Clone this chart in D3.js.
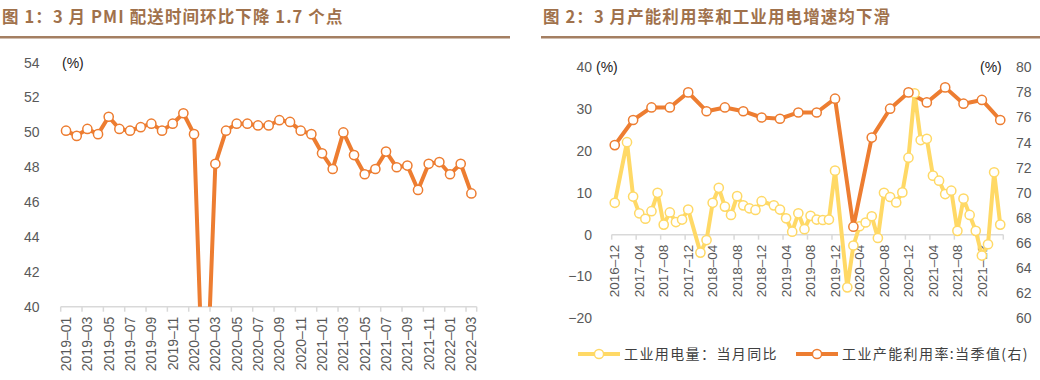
<!DOCTYPE html>
<html>
<head>
<meta charset="utf-8">
<script src="https://cdn.jsdelivr.net/npm/d3@7"></script>
<style>
  body { margin: 0; background: #fff; }
  svg { display: block; }
  .tick text { font-family: "Liberation Sans", Arial, sans-serif; }
</style>
</head>
<body>
<div id="chart"></div>
<script>
// ---- data ----
var leftTitle = "图 1：3 月 PMI 配送时间环比下降 1.7 个点";
var rightTitle = "图 2：3 月产能利用率和工业用电增速均下滑";

// PMI supplier delivery times, 2019-01 .. 2022-03
var pmiMonths = monthList(2019, 1, 2022, 3);
var pmiDelivery = [50.1, 49.8, 50.2, 49.9, 50.9, 50.2, 50.1, 50.3, 50.5, 50.1, 50.5, 51.1,
                   49.9, 32.1, 48.2, 50.1, 50.5, 50.5, 50.4, 50.4, 50.7, 50.6, 50.1, 49.9,
                   48.8, 47.9, 50.0, 48.7, 47.6, 47.9, 48.9, 48.0, 48.1, 46.7, 48.2, 48.3,
                   47.6, 48.2, 46.5];
var pmiTicks = [40, 42, 44, 46, 48, 50, 52, 54];

// industrial power use yoy, 2016-12 .. 2022-03 (null = not published)
var elecMonths = monthList(2016, 12, 2022, 3);
var elecYoy = [7.6, null, 22.1, 9.1, 5.1, 3.8, 5.6, 10.0, 2.4, 5.3, 3.0, 3.6,
               6.0, null, -4.3, -1.3, 7.6, 11.2, 6.7, 4.7, 9.2, 7.0, 6.3, 5.9,
               8.0, null, 7.0, 6.0, 3.9, 0.7, 5.1, 1.3, 4.5, 3.6, 3.5, 3.6,
               15.3, null, -12.6, -2.6, 2.0, 2.9, 4.4, -0.8, 10.0, 9.0, 7.7, 10.1,
               18.4, 33.8, 22.6, 22.9, 14.1, 12.9, 9.7, 10.5, 0.9, 8.6, 4.7, 0.9,
               -5.0, -2.3, 14.9, 2.4];
// industrial capacity utilization, quarterly
var capQuarters = ["2016-12", "2017-03", "2017-06", "2017-09", "2017-12", "2018-03", "2018-06",
                   "2018-09", "2018-12", "2019-03", "2019-06", "2019-09", "2019-12", "2020-03",
                   "2020-06", "2020-09", "2020-12", "2021-03", "2021-06", "2021-09", "2021-12",
                   "2022-03"];
var capRate = [73.8, 75.8, 76.8, 76.8, 78.0, 76.5, 76.8, 76.5, 76.0, 75.9, 76.4,
               76.4, 77.5, 67.3, 74.4, 76.7, 78.0, 77.2, 78.4, 77.1, 77.4, 75.8];
var leftTicks = [-20, -10, 0, 10, 20, 30, 40];
var rightTicks = [60, 62, 64, 66, 68, 70, 72, 74, 76, 78, 80];
var legendNames = ["工业用电量：当月同比", "工业产能利用率:当季值(右)"];

var orange = "#ED7D31";
var yellow = "#FFD966";
var axisGray = "#D9D9D9";
var labelGray = "#595959";

function monthList(y0, m0, y1, m1) {
  var out = [];
  var y = y0, m = m0;
  while (y < y1 || (y == y1 && m <= m1)) {
    out.push(y + "-" + (m < 10 ? "0" + m : m));
    m++;
    if (m > 12) { m = 1; y++; }
  }
  return out;
}

var svg = d3.select("#chart").append("svg")
    .attr("width", 1040)
    .attr("height", 380);

// titles with underline
function drawTitle(text, x0, x1) {
  svg.append("text")
      .attr("x", x0 + 2)
      .attr("y", 23)
      .style("font-family", "'Noto Sans CJK SC', sans-serif")
      .style("font-weight", "bold")
      .style("font-size", "16.5px")
      .style("letter-spacing", "1.1px")
      .style("fill", "#A0714B")
      .text(text);
  svg.append("rect")
      .attr("x", x0)
      .attr("y", 36)
      .attr("width", x1 - x0)
      .attr("height", 2.5)
      .style("fill", "#A47F62");
}
drawTitle(leftTitle, 0, 510);
drawTitle(rightTitle, 541, 1040);

function dash(s) { return s.replace("-", "–"); }

function drawMarkers(g, pts, xf, yf, color) {
  g.selectAll(null)
      .data(pts)
    .enter().append("circle")
      .attr("cx", xf)
      .attr("cy", yf)
      .attr("r", 4.6)
      .style("fill", "#fff")
      .style("stroke", color)
      .style("stroke-width", 1.5);
}

// ---------- left chart ----------
function createLeftChart() {
  var x = d3.scaleBand()
      .domain(pmiMonths)
      .range([60.7, 476.7]);
  var y = d3.scaleLinear()
      .domain([40, 54])
      .range([306.7, 62.7]);

  var g = svg.append("g");

  // y labels, no axis line
  g.selectAll(".ylab")
      .data(pmiTicks)
    .enter().append("text")
      .attr("class", "ylab")
      .attr("x", 39.5)
      .attr("y", function(d) { return y(d); })
      .attr("dy", "0.35em")
      .style("text-anchor", "end")
      .style("font-family", "'Liberation Sans', Arial, sans-serif")
      .style("font-size", "14px")
      .style("fill", labelGray)
      .text(function(d) { return d; });

  g.append("text")
      .attr("x", 62)
      .attr("y", 68)
      .style("font-family", "'Liberation Sans', Arial, sans-serif")
      .style("font-size", "14px")
      .style("fill", "#222")
      .text("(%)");

  // x axis
  var xAxis = g.append("g")
      .attr("transform", "translate(0," + y(40) + ")");
  xAxis.append("line")
      .attr("x1", x.range()[0]).attr("x2", x.range()[1])
      .style("stroke", axisGray).style("stroke-width", 1.5);
  var edges = pmiMonths.filter(function(d, i) { return i % 2 == 0; });
  xAxis.selectAll(".tk")
      .data(edges.concat(["end"]))
    .enter().append("line")
      .attr("x1", function(d) { return d == "end" ? x.range()[1] : x(d); })
      .attr("x2", function(d) { return d == "end" ? x.range()[1] : x(d); })
      .attr("y1", 0).attr("y2", 5)
      .style("stroke", axisGray).style("stroke-width", 1.5);
  xAxis.selectAll(".xlab")
      .data(edges)
    .enter().append("text")
      .attr("transform", function(d) {
        return "translate(" + (x(d) + x.bandwidth() / 2) + ",10) rotate(-90)";
      })
      .attr("dy", "0.35em")
      .style("text-anchor", "end")
      .style("font-family", "'Liberation Sans', Arial, sans-serif")
      .style("font-size", "14px")
      .style("fill", labelGray)
      .text(dash);

  // clip so the 2020-02 plunge is cut at the axis
  svg.append("clipPath")
      .attr("id", "leftClip")
    .append("rect")
      .attr("x", 40).attr("y", 40)
      .attr("width", 460).attr("height", y(40) - 40);

  var pts = pmiMonths.map(function(m, i) { return { m: m, v: pmiDelivery[i] }; });
  var cx = function(d) { return x(d.m) + x.bandwidth() / 2; };
  var cy = function(d) { return y(d.v); };

  var plot = g.append("g").attr("clip-path", "url(#leftClip)");
  plot.append("path")
      .datum(pts)
      .attr("d", d3.line().x(cx).y(cy))
      .style("fill", "none")
      .style("stroke", orange)
      .style("stroke-width", 4)
      .style("stroke-linejoin", "round");
  drawMarkers(plot, pts, cx, cy, orange);
}

// ---------- right chart ----------
function createRightChart() {
  var x = d3.scaleBand()
      .domain(elecMonths)
      .range([611.7, 1003.3]);
  var yL = d3.scaleLinear()
      .domain([-20, 40])
      .range([318.3, 67.3]);
  var yR = d3.scaleLinear()
      .domain([60, 80])
      .range([318.3, 67.3]);

  var g = svg.append("g");

  g.selectAll(".ylL")
      .data(leftTicks)
    .enter().append("text")
      .attr("x", 592)
      .attr("y", function(d) { return yL(d); })
      .attr("dy", "0.35em")
      .style("text-anchor", "end")
      .style("font-family", "'Liberation Sans', Arial, sans-serif")
      .style("font-size", "14px")
      .style("fill", labelGray)
      .text(function(d) { return d < 0 ? "−" + (-d) : d; });

  g.selectAll(".ylR")
      .data(rightTicks)
    .enter().append("text")
      .attr("x", 1016)
      .attr("y", function(d) { return yR(d); })
      .attr("dy", "0.35em")
      .style("font-family", "'Liberation Sans', Arial, sans-serif")
      .style("font-size", "14px")
      .style("fill", labelGray)
      .text(function(d) { return d; });

  g.append("text")
      .attr("x", 596).attr("y", 72)
      .style("font-family", "'Liberation Sans', Arial, sans-serif")
      .style("font-size", "14px")
      .style("fill", "#222")
      .text("(%)");
  g.append("text")
      .attr("x", 980).attr("y", 72)
      .style("font-family", "'Liberation Sans', Arial, sans-serif")
      .style("font-size", "14px")
      .style("fill", "#222")
      .text("(%)");

  // x axis at zero
  var xAxis = g.append("g")
      .attr("transform", "translate(0," + yL(0) + ")");
  xAxis.append("line")
      .attr("x1", x.range()[0]).attr("x2", x.range()[1])
      .style("stroke", axisGray).style("stroke-width", 1.5);
  var edges = elecMonths.filter(function(d, i) { return i % 4 == 0; });
  xAxis.selectAll(".tk")
      .data(edges.concat(["end"]))
    .enter().append("line")
      .attr("x1", function(d) { return d == "end" ? x.range()[1] : x(d); })
      .attr("x2", function(d) { return d == "end" ? x.range()[1] : x(d); })
      .attr("y1", 0).attr("y2", 5)
      .style("stroke", axisGray).style("stroke-width", 1.5);
  xAxis.selectAll(".xlab")
      .data(edges)
    .enter().append("text")
      .attr("transform", function(d) {
        return "translate(" + (x(d) + x.bandwidth() / 2) + ",10) rotate(-90)";
      })
      .attr("dy", "0.35em")
      .style("text-anchor", "end")
      .style("font-family", "'Liberation Sans', Arial, sans-serif")
      .style("font-size", "13.5px")
      .style("fill", labelGray)
      .text(dash);

  // power use (left axis)
  var ePts = elecMonths.map(function(m, i) { return { m: m, v: elecYoy[i] }; })
      .filter(function(d) { return d.v !== null; });
  var cx = function(d) { return x(d.m) + x.bandwidth() / 2; };
  g.append("path")
      .datum(ePts)
      .attr("d", d3.line().x(cx).y(function(d) { return yL(d.v); }))
      .style("fill", "none")
      .style("stroke", yellow)
      .style("stroke-width", 4)
      .style("stroke-linejoin", "round");

  // capacity utilization (right axis)
  var cPts = capQuarters.map(function(m, i) { return { m: m, v: capRate[i] }; });
  g.append("path")
      .datum(cPts)
      .attr("d", d3.line().x(cx).y(function(d) { return yR(d.v); }))
      .style("fill", "none")
      .style("stroke", orange)
      .style("stroke-width", 4)
      .style("stroke-linejoin", "round");

  drawMarkers(g, ePts, cx, function(d) { return yL(d.v); }, yellow);
  drawMarkers(g, cPts, cx, function(d) { return yR(d.v); }, orange);

  // legend
  var legend = [
    { name: legendNames[0], color: yellow, x: 578 },
    { name: legendNames[1], color: orange, x: 796 }
  ];
  var lg = svg.append("g").attr("transform", "translate(0,354)");
  legend.forEach(function(l) {
    lg.append("line")
        .attr("x1", l.x).attr("x2", l.x + 42)
        .style("stroke", l.color).style("stroke-width", 4);
    lg.append("circle")
        .attr("cx", l.x + 21).attr("r", 4.6)
        .style("fill", "#fff").style("stroke", l.color).style("stroke-width", 1.5);
    lg.append("text")
        .attr("x", l.x + 46)
        .attr("dy", "0.35em")
        .style("font-family", "'Noto Sans CJK SC', sans-serif")
        .style("font-size", "14px")
        .style("letter-spacing", "1.4px")
        .style("fill", "#404040")
        .text(l.name);
  });
}

createLeftChart();
createRightChart();
</script>
</body>
</html>
